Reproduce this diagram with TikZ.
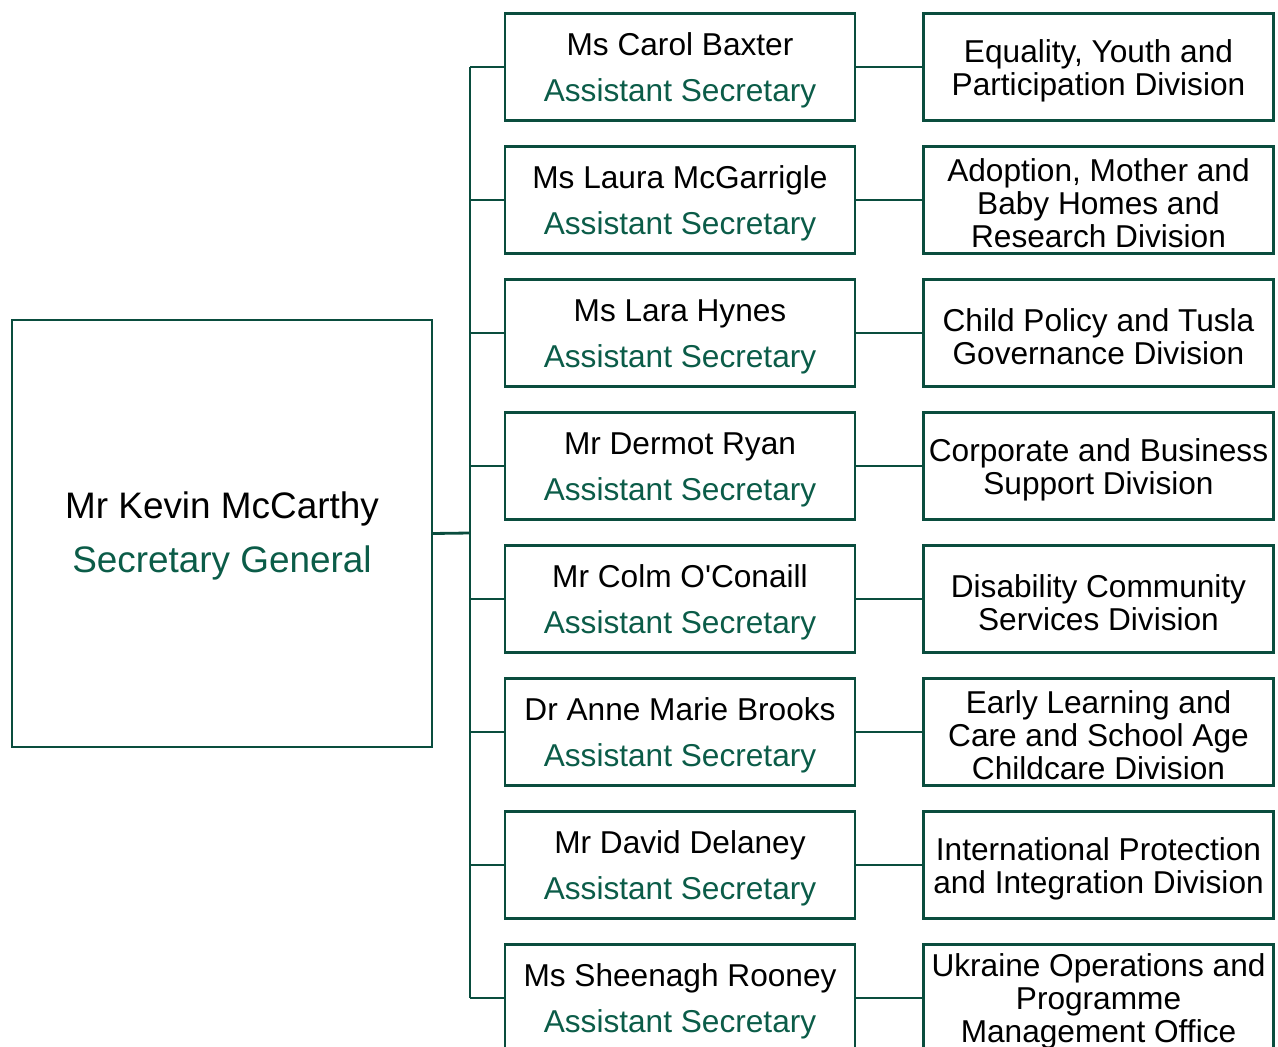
\documentclass[tikz,border=0pt]{standalone}
\usepackage{fontspec}
\setmainfont{Liberation Sans}
\usetikzlibrary{positioning}
\definecolor{dgreen}{HTML}{0A4D3E}
\definecolor{tgreen}{HTML}{0B5C48}

\begin{document}
\begin{tikzpicture}[
  x=0.02cm, y=-0.02cm,
  every node/.style={draw=dgreen, line width=1.3pt, align=center, inner sep=0pt},
  boss/.style={minimum width=8.4cm, minimum height=8.54cm, font=\fontsize{21}{30.6}\selectfont},
  head/.style={minimum width=7cm, minimum height=2.14cm, font=\fontsize{18}{19}\selectfont},
  unit/.style={minimum width=7cm, minimum height=2.14cm, font=\fontsize{18}{18.7}\selectfont},
  link/.style={draw=dgreen, line width=1.6pt}
]
\useasboundingbox (0,0) rectangle (1278,1047);
\clip (0,0) rectangle (1278,1047);

\node[boss] (sg) at (222,533.5) {\rule{0pt}{17.7pt}Mr Kevin McCarthy\\\textcolor{tgreen}{Secretary General}};
\coordinate (fork) at (470,533);

\foreach \i/\who/\what in {
  0/Ms Carol Baxter/{Equality, Youth and\\Participation Division},
  1/Ms Laura McGarrigle/{Adoption, Mother and\\Baby Homes and\\Research Division},
  2/Ms Lara Hynes/{Child Policy and Tusla\\Governance Division},
  3/Mr Dermot Ryan/{Corporate and Business\\Support Division},
  4/Mr Colm O\textquotesingle Conaill/{Disability Community\\Services Division},
  5/Dr Anne Marie Brooks/{Early Learning and\\Care and School Age\\Childcare Division},
  6/Mr David Delaney/{International Protection\\and Integration Division},
  7/Ms Sheenagh Rooney/{Ukraine Operations and\\Programme\\Management Office}}
{
  \node[head] (as\i) at (680,67+133*\i) {\rule{0pt}{17pt}\who\\[7pt]\textcolor{tgreen}{Assistant Secretary}};
  \node[unit] (div\i) at (1098.5,67+133*\i) {\rule{0pt}{17pt}\what};
  \draw[link] (as\i.east) -- (div\i.west);
  \draw[link] (as\i.west) -- (as\i.west -| fork);
}

% trunk
\draw[link] (sg.east) -- (fork);
\draw[link] (as0.west -| fork) -- (as7.west -| fork);
\end{tikzpicture}
\end{document}
